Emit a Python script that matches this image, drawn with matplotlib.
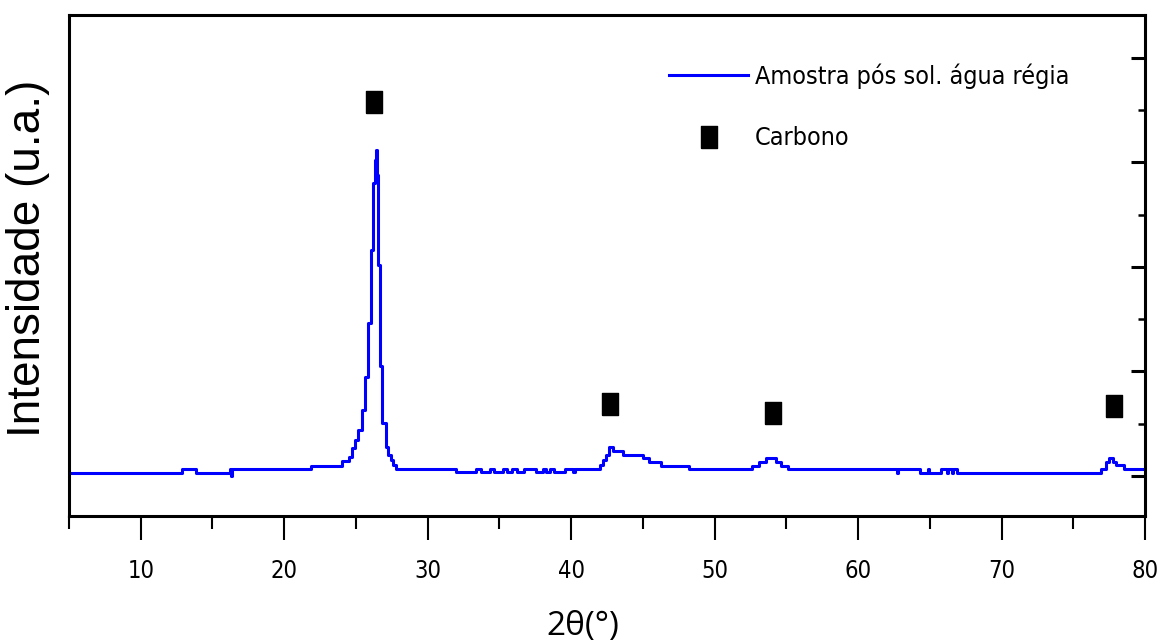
import numpy as np
import matplotlib
matplotlib.use("Agg")
import matplotlib.pyplot as plt
from matplotlib import font_manager as fm
from matplotlib.lines import Line2D

# difratograma (2theta, intensidade em u.a.), em degraus
two_theta = [5.00, 12.88, 13.86, 16.22, 16.30, 16.36, 21.87, 24.02, 24.51, 24.72,
             24.93, 25.14, 25.42, 25.63, 25.84, 26.05, 26.18, 26.32, 26.39, 26.46,
             26.53, 26.67, 26.81, 27.09, 27.23, 27.44, 27.58, 27.79, 31.97, 33.36,
             33.71, 34.34, 34.62, 35.24, 35.52, 35.87, 36.22, 36.71, 37.54, 38.03,
             38.24, 38.52, 38.80, 39.56, 40.12, 40.26, 42.00, 42.21, 42.42, 42.63,
             42.91, 43.61, 45.00, 45.42, 46.25, 48.20, 52.60, 53.08, 53.57, 54.27,
             54.62, 55.10, 62.70, 62.80, 64.30, 64.86, 64.95, 65.77, 66.18, 66.25,
             66.53, 66.60, 66.88, 76.92, 77.27, 77.47, 77.75, 77.96, 78.52, 80.00]
intensidade = [29, 67, 29, 67, 0, 67, 96, 144, 182, 268,
               344, 440, 632, 947, 1464, 2163, 2804, 3024, 3120, 2880,
               2019, 1053, 507, 278, 201, 153, 105, 67, 38, 67,
               38, 67, 38, 67, 38, 67, 38, 67, 38, 67,
               38, 67, 38, 67, 38, 67, 105, 153, 201, 278,
               239, 201, 172, 134, 96, 67, 96, 134, 172, 134,
               96, 67, 29, 67, 29, 67, 29, 67, 29, 67,
               29, 67, 29, 67, 134, 172, 134, 105, 67, 67]

# picos identificados (carbono)
carbono_x = [26.25, 42.72, 54.09, 77.86]
carbono_y = [3579, 684, 603, 670]

legenda = ["Amostra pós sol. água régia", "Carbono"]


def narrow_font():
    # procura uma fonte estreita instalada, se houver
    for f in fm.fontManager.ttflist:
        nm = (f.name + " " + f.fname).lower()
        if ("narrow" in nm or "condensed" in nm) and f.style == "normal" \
                and f.weight in (400, "normal", "regular") and "sans" in nm:
            return f.fname
    return None


nf = narrow_font()
if nf:
    leg_prop = fm.FontProperties(fname=nf, size=18)
    tick_prop = fm.FontProperties(fname=nf, size=17)
else:
    leg_prop = fm.FontProperties(family="Liberation Sans", size=18)
    tick_prop = fm.FontProperties(family="Liberation Sans", size=18)

fpx = leg_prop.get_size_in_points() * 100 / 72

fig = plt.figure(figsize=(11.58, 6.42), dpi=100)
ax = fig.add_axes([69/1158, 1 - 516/642, (1145 - 69)/1158, (516 - 15)/642])

ax.step(two_theta, intensidade, where="post", color="#0000ff", lw=2.2)

rect = [(-0.34, -0.5), (0.34, -0.5), (0.34, 0.5), (-0.34, 0.5), (-0.34, -0.5)]
ax.plot(carbono_x, carbono_y, ls="none", marker=rect, ms=16, color="black")

ax.set_xlim(5, 80)
ax.set_ylim(-383, 4411)
ax.set_xticks(np.arange(10, 81, 10))
ax.set_xticks(np.arange(5, 80, 10), minor=True)
ax.set_yticks(np.arange(0, 4001, 1000))
ax.set_yticks(np.arange(500, 4001, 1000), minor=True)

for s in ax.spines.values():
    s.set_linewidth(2.2)

ax.tick_params(axis="x", which="major", direction="out", length=17, width=1.5,
               pad=14, top=False)
ax.tick_params(axis="x", which="minor", direction="out", length=9, width=1.5, top=False)
ax.tick_params(axis="y", which="both", direction="in", left=False, right=True,
               labelleft=False, labelright=False)
ax.tick_params(axis="y", which="major", length=10, width=2.2)
ax.tick_params(axis="y", which="minor", length=5, width=1.8)
for lab in ax.get_xticklabels():
    lab.set_fontproperties(tick_prop)

fig.text(28/1158, 1 - 258/642, "Intensidade (u.a.)", rotation=90, ha="center", va="center",
         fontsize=33, family="Liberation Sans")
fig.text(583/1158, 1 - 627/642, "2θ(°)", ha="center", va="center", fontsize=24,
         family=["Open Sans", "DejaVu Sans"])

handles = [Line2D([], [], color="#0000ff", lw=2.2),
           Line2D([], [], ls="none", marker=rect, ms=16, color="black")]
ax.legend(handles, legenda, loc="upper left",
          bbox_to_anchor=(669/1158, 1 - (75 - 0.47 * fpx)/642),
          bbox_transform=fig.transFigure, frameon=False, borderpad=0, borderaxespad=0,
          handlelength=79/fpx, handletextpad=7/fpx, labelspacing=(61 - 0.94 * fpx)/fpx,
          prop=leg_prop)

fig.savefig("out.png", dpi=100)
